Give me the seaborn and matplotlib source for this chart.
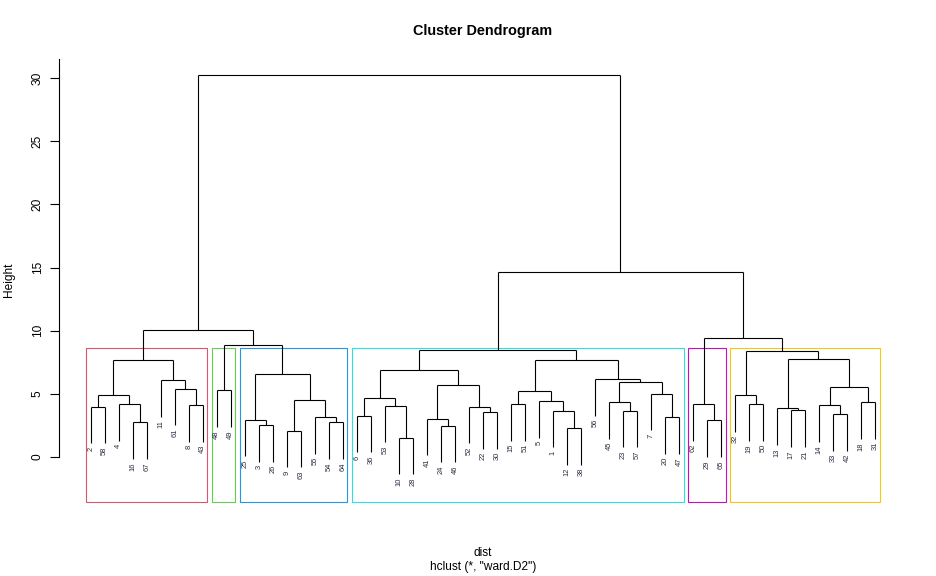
import matplotlib
matplotlib.use("Agg")
import matplotlib.pyplot as plt
import seaborn as sns

# hclust-style merge table: negative = leaf label, positive = earlier merge (1-based)
merge_left = [-2, -16, -4, 1, -8, -61, -11, 4,
              -48,
              -3, -25, -9, -54, -55, 12, 11, 9, 8,
              -6, -10, -53, 19, -24, -41, -22, -52, 24, 22,
              -15, -12, -1, -5, 29, -23, -45, -20, -7, 35, -56, 33, 28,
              -29, -62,
              -19, -32, -17, -13, -33, -14, -18, 49, 47, 45, 43, 41, 18]
merge_right = [-58, -67, 2, 3, -43, 5, 6, 7,
               -49,
               -26, 10, -63, -64, 13, 14, 15, 16, 17,
               -36, -28, 20, 21, -46, 23, -30, 25, 26, 27,
               -51, -38, 30, 31, 32, -57, 34, -47, 36, 37, 38, 39, 40,
               -65, 42,
               -50, 44, -21, 46, -42, 48, -31, 50, 51, 52, 53, 54, 55]
merge_height = [3.98, 2.74, 4.17, 4.88, 4.09, 5.41, 6.07, 7.65,
                5.28,
                2.51, 2.93, 2.06, 2.74, 3.14, 4.49, 6.57, 8.89, 10.05,
                3.27, 1.53, 4.06, 4.64, 2.48, 3.03, 3.53, 3.98, 5.67, 6.91,
                4.17, 2.27, 3.67, 4.41, 5.20, 3.67, 4.33, 3.14, 4.99, 5.96, 6.15, 7.65, 8.44,
                2.90, 4.17,
                4.17, 4.88, 3.69, 3.85, 3.38, 4.09, 4.33, 5.52, 7.73, 8.36, 9.42, 14.64, 30.24]
n_clusters = 6
box_colors = ["#DF536B", "#61D04F", "#2297E6", "#28E2E5", "#CD0BBC", "#F5C710"]

sns.set_theme(style="white")
plt.rcParams["font.family"] = ["Liberation Sans", "DejaVu Sans"]
plt.rcParams["text.color"] = "black"
plt.rcParams["axes.labelcolor"] = "black"

root = len(merge_height)
order = []
pos = {}


def place(ref):
    if ref < 0:
        order.append(-ref)
        pos[ref] = len(order)
    else:
        xl = place(merge_left[ref - 1])
        xr = place(merge_right[ref - 1])
        pos[ref] = (xl + xr) / 2
    return pos[ref]


place(root)
n = len(order)
hang = 0.1 * (max(merge_height) - min(merge_height))

fig = plt.figure(figsize=(9.36, 5.76), dpi=100)
ax = fig.add_axes([59.3 / 936, 74 / 576, 847.2 / 936, 443.4 / 576])

lw = 0.8
for i, h in enumerate(merge_height):
    for c in (merge_left[i], merge_right[i]):
        hc = merge_height[c - 1] if c > 0 else h - hang
        ax.plot([pos[c], pos[c]], [hc, h], color="black", lw=lw, solid_capstyle="butt")
        if c < 0:
            ax.annotate(str(-c), (pos[c], hc), xytext=(0, -2.5), textcoords="offset points",
                        rotation=90, ha="center", va="top", fontsize=5.4, color="#2a2a40")
    ax.plot([pos[merge_left[i]], pos[merge_right[i]]], [h, h], color="black", lw=lw,
            solid_capstyle="butt")

# rect.hclust: cut into k clusters
cut = sorted(range(1, root + 1), key=lambda r: merge_height[r - 1], reverse=True)[:n_clusters - 1]
roots = []
for r in cut:
    for c in (merge_left[r - 1], merge_right[r - 1]):
        if c not in cut:
            roots.append(c)


def leaves(ref):
    if ref < 0:
        return [-ref]
    return leaves(merge_left[ref - 1]) + leaves(merge_right[ref - 1])


groups = sorted([[order.index(l) + 1 for l in leaves(r)] for r in roots], key=min)
hs = sorted(merge_height, reverse=True)
box_top = (hs[n_clusters - 1] + hs[n_clusters - 2]) / 2
ylo, yhi = -3.56, 31.54
for g, col in zip(groups, box_colors):
    left = min(g) - 1 + 0.66
    right = max(g) + 0.33
    ax.add_patch(plt.Rectangle((left, ylo), right - left, box_top - ylo, fill=False,
                               edgecolor=col, lw=lw, clip_on=False))

ext = 0.04 * (n - 1)
ax.set_xlim(1 - ext, n + ext)
ax.set_ylim(ylo, yhi)
ax.set_xticks([])
ax.set_yticks(range(0, 31, 5))
ax.tick_params(axis="y", left=True, length=6.2, width=0.8, pad=5, labelsize=8.6, colors="black")
plt.setp(ax.get_yticklabels(), rotation=90, va="center")
sns.despine(ax=ax, bottom=True)
ax.spines["left"].set_bounds(0, yhi)
ax.spines["left"].set_color("black")
ax.spines["left"].set_linewidth(0.8)

fig.text(483 / 936, 1 - 31 / 576, "Cluster Dendrogram", ha="center", va="center",
         fontsize=10.4, fontweight="bold")
fig.text(9 / 936, 1 - 280 / 576, "Height", rotation=90, ha="center", va="center", fontsize=8.6)
fig.text(483 / 936, 1 - 553 / 576, "dist", ha="center", va="center", fontsize=8.6)
fig.text(483 / 936, 1 - 567 / 576, 'hclust (*, "ward.D2")', ha="center", va="center", fontsize=8.6)

fig.savefig("out.png", dpi=100, facecolor="white")
